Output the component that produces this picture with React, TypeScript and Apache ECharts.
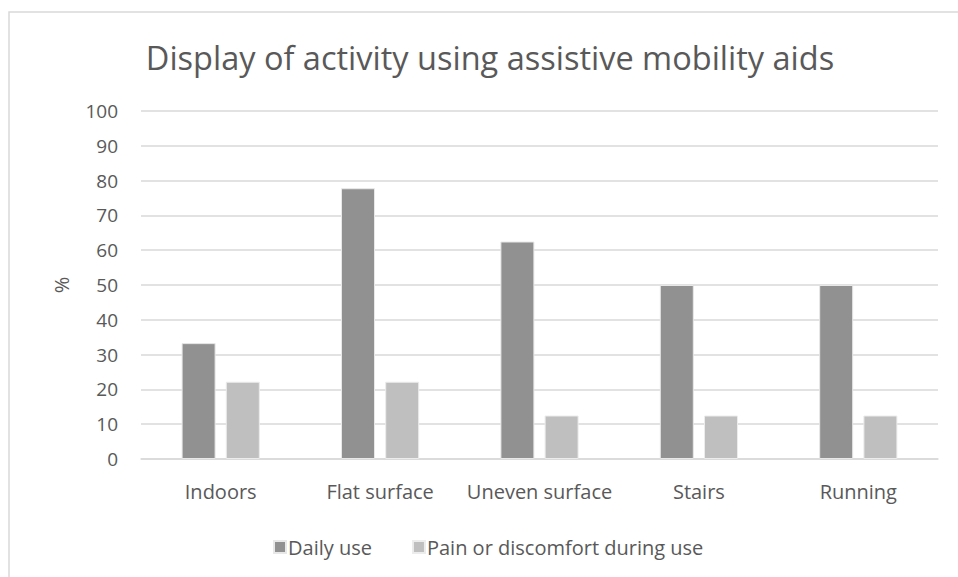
import React, { useEffect, useRef } from "react";
import * as echarts from "echarts";

const categories = ["Indoors", "Flat surface", "Uneven surface", "Stairs", "Running"];
const dailyUse = [33.3, 77.8, 62.5, 50, 50];
const painDuringUse = [22.2, 22.2, 12.5, 12.5, 12.5];
const seriesNames = ["Daily use", "Pain or discomfort during use"];
const titleText = "Display of activity using assistive mobility aids";

const FONT = "'Open Sans', 'Noto Sans', sans-serif";
const TEXT = "#595959";
const GRID = "#d9d9d9";

export default function App() {
  const ref = useRef<HTMLDivElement>(null);
  useEffect(() => {
    if (!ref.current) return;
    const chart = echarts.init(ref.current, undefined, { renderer: "svg" });
    chart.setOption({
      animation: false,
      backgroundColor: "#ffffff",
      textStyle: { fontFamily: FONT },
      graphic: [
        {
          type: "rect",
          shape: { x: 9, y: 12, width: 960, height: 580 },
          style: { fill: "none", stroke: GRID, lineWidth: 1.5 },
          silent: true,
          z: -10,
        },
        {
          type: "text",
          x: 490,
          y: 57,
          style: {
            text: titleText,
            fontFamily: FONT,
            fontSize: 32.5,
            fill: TEXT,
            align: "center",
            verticalAlign: "middle",
          },
        },
      ],
      legend: {
        data: seriesNames,
        left: 268,
        top: 532,
        itemWidth: 12,
        itemHeight: 12,
        itemGap: 40,
        icon: "rect",
        textStyle: { fontFamily: FONT, fontSize: 20, color: TEXT, padding: [0, 0, 0, -3] },
      },
      grid: { left: 141, right: 20, top: 111, bottom: 118, containLabel: false },
      xAxis: {
        type: "category",
        data: categories,
        axisLine: { show: true, lineStyle: { color: GRID, width: 1.5 } },
        axisTick: { show: false },
        axisLabel: { fontFamily: FONT, fontSize: 20, color: TEXT, margin: 22, interval: 0 },
      },
      yAxis: {
        type: "value",
        min: 0,
        max: 100,
        interval: 10,
        name: "%",
        nameLocation: "middle",
        nameGap: 70,
        nameRotate: 90,
        nameTextStyle: { fontFamily: FONT, fontSize: 20, color: TEXT },
        axisLine: { show: false },
        axisTick: { show: false },
        axisLabel: { fontFamily: FONT, fontSize: 19, color: TEXT, margin: 23 },
        splitLine: { show: true, lineStyle: { color: GRID, width: 1.5 } },
      },
      series: [
        {
          name: seriesNames[0],
          type: "bar",
          data: dailyUse,
          barWidth: 34,
          barGap: "30%",
          itemStyle: { color: "#919191", borderColor: "#e8e8e8", borderWidth: 1 },
        },
        {
          name: seriesNames[1],
          type: "bar",
          data: painDuringUse,
          barWidth: 34,
          itemStyle: { color: "#bfbfbf", borderColor: "#ececec", borderWidth: 1 },
        },
      ],
    });
    return () => chart.dispose();
  }, []);
  return (
    <div
      ref={ref}
      style={{ position: "fixed", left: 0, top: 0, width: 958, height: 577 }}
    />
  );
}
